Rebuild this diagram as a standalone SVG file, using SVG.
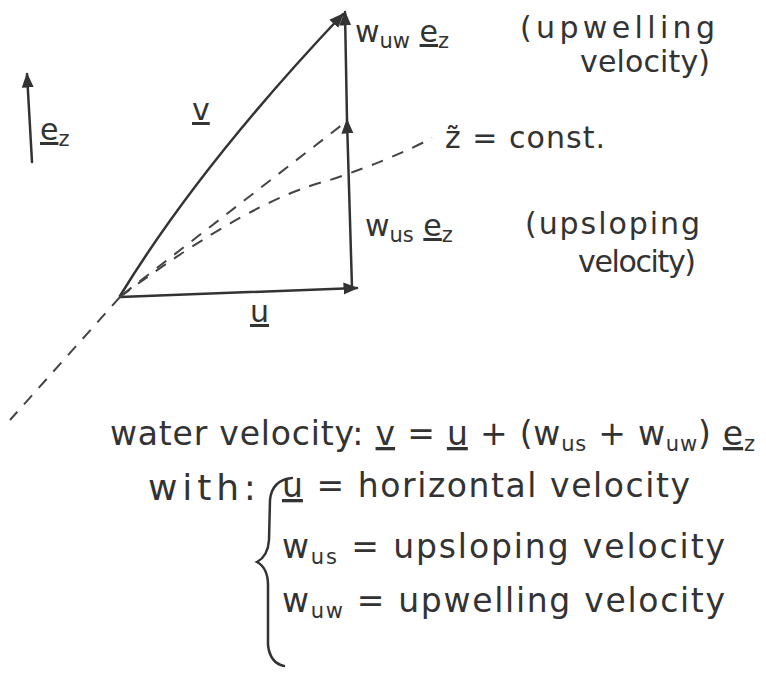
<svg xmlns="http://www.w3.org/2000/svg" width="766" height="675" viewBox="0 0 766 675">
<style>
.t{font-family:"DejaVu Sans","Liberation Sans",sans-serif;font-size:30px;fill:#333}
.b{font-size:33px}
.s{font-size:21px}
.ul{text-decoration:underline}
.ln{fill:none;stroke:#333;stroke-width:2.5;stroke-linecap:round}
.ds{fill:none;stroke:#444;stroke-width:2;stroke-dasharray:12 10}
</style>
<defs>
<marker id="ah" viewBox="0 0 10 10" refX="9" refY="5" markerWidth="6" markerHeight="6" orient="auto" markerUnits="strokeWidth">
<path d="M0,1 L10,5 L0,9 Z" fill="#333"/>
</marker>
</defs>
<rect width="766" height="675" fill="#fff"/>
<g id="connectors">
<path class="ln" d="M120,297 L357,288" marker-end="url(#ah)"/>
<path class="ln" d="M352,288 L347,120" marker-end="url(#ah)"/>
<path class="ln" d="M347,120 L345,12" marker-end="url(#ah)"/>
<path class="ln" d="M120,296 Q200,165 343,14" marker-end="url(#ah)"/>
<path class="ds" d="M122,295 L347,121"/>
<path class="ds" d="M120,297 Q250,200 330,180 Q390,160 432,138"/>
<path class="ds" d="M120,297 L10,420"/>
<path class="ln" d="M32,162 L27,74" marker-end="url(#ah)"/>
</g>
<g id="ez-label"><text class="t" x="40" y="140"><tspan class="ul">e</tspan><tspan class="s" dy="6">z</tspan></text></g>
<g id="v-label"><text class="t" x="192" y="120"><tspan class="ul">v</tspan></text></g>
<g id="u-label"><text class="t" x="250" y="322"><tspan class="ul">u</tspan></text></g>
<g id="wuw-label">
<text class="t" x="355" y="42">w<tspan class="s" dy="6">uw</tspan><tspan dy="-6"> </tspan><tspan class="ul">e</tspan><tspan class="s" dy="6">z</tspan></text>
<text class="t" x="520" y="38" textLength="195">(upwelling</text>
<text class="t" x="580" y="72" textLength="130">velocity)</text>
</g>
<g id="ztilde-label"><text class="t" x="445" y="148" textLength="160">z̃ = const.</text></g>
<g id="wus-label">
<text class="t" x="365" y="236">w<tspan class="s" dy="6">us</tspan><tspan dy="-6"> </tspan><tspan class="ul">e</tspan><tspan class="s" dy="6">z</tspan></text>
<text class="t" x="525" y="234" textLength="175">(upsloping</text>
<text class="t" x="578" y="272" textLength="118">velocity)</text>
</g>
<g id="equation">
<text class="t b" x="110" y="445" textLength="645">water velocity: <tspan class="ul">v</tspan> = <tspan class="ul">u</tspan> + (w<tspan class="s" dy="6">us</tspan><tspan dy="-6"> + w</tspan><tspan class="s" dy="6">uw</tspan><tspan dy="-6">) </tspan><tspan class="ul">e</tspan><tspan class="s" dy="6">z</tspan></text>
</g>
<g id="legend">
<text class="t" x="148" y="500" style="font-size:36px" textLength="108">with:</text>
<path class="ln" d="M292,478 Q272,480 270,500 L269,540 Q268,556 257,562 Q268,568 268,585 L268,645 Q270,663 284,666"/>
<text class="t b" x="282" y="497" textLength="408"><tspan class="ul">u</tspan> = horizontal velocity</text>
<text class="t b" x="282" y="558" textLength="443">w<tspan class="s" dy="6">us</tspan><tspan dy="-6"> = upsloping velocity</tspan></text>
<text class="t b" x="282" y="612" textLength="443">w<tspan class="s" dy="6">uw</tspan><tspan dy="-6"> = upwelling velocity</tspan></text>
</g>
</svg>
